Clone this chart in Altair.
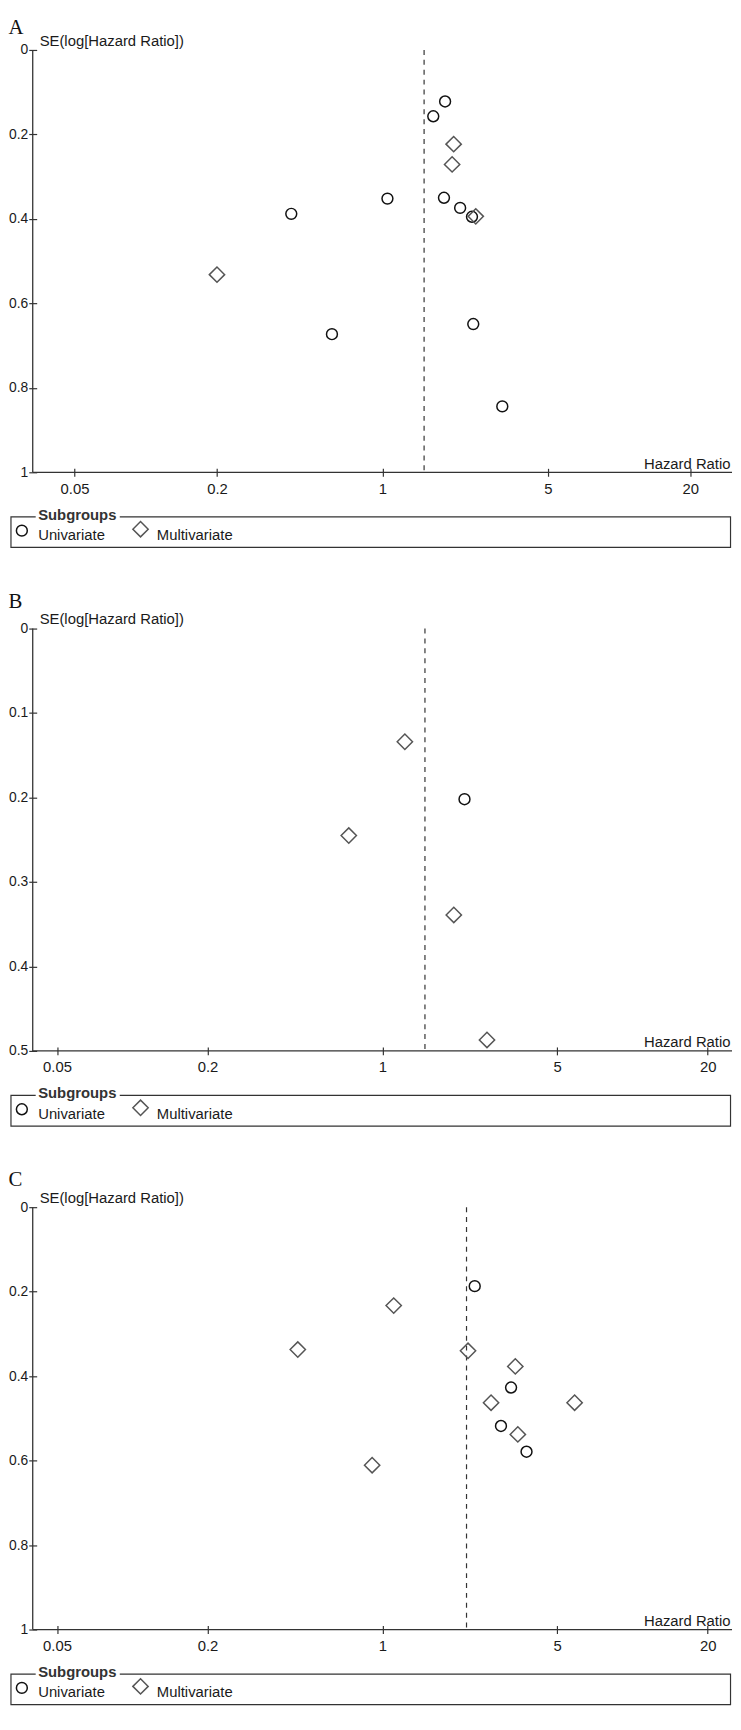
import altair as alt
import pandas as pd

GROUPS = ["Univariate", "Multivariate"]
X_TICKS = [0.05, 0.2, 1, 5, 20]

# Panel A
A_UNI_HR = [1.84, 1.64, 1.05, 0.412, 1.82, 2.13, 2.39, 2.42, 0.612, 3.21]
A_UNI_SE = [0.122, 0.157, 0.352, 0.388, 0.350, 0.374, 0.395, 0.649, 0.673, 0.844]
A_MULTI_HR = [2.00, 1.97, 2.48, 0.20]
A_MULTI_SE = [0.223, 0.271, 0.394, 0.532]
A_POOLED = 1.50
A_X_DOMAIN = [0.0333, 30]
A_Y_TICKS = [0, 0.2, 0.4, 0.6, 0.8, 1]

# Panel B
B_UNI_HR = [2.13]
B_UNI_SE = [0.202]
B_MULTI_HR = [1.23, 0.734, 1.93, 2.62]
B_MULTI_SE = [0.134, 0.245, 0.339, 0.487]
B_POOLED = 1.48
B_X_DOMAIN = [0.04, 25]
B_Y_TICKS = [0, 0.1, 0.2, 0.3, 0.4, 0.5]

# Panel C
C_UNI_HR = [2.34, 3.27, 2.98, 3.77]
C_UNI_SE = [0.187, 0.427, 0.518, 0.579]
C_MULTI_HR = [1.11, 0.459, 2.20, 3.40, 2.72, 5.87, 3.48, 0.91]
C_MULTI_SE = [0.233, 0.337, 0.340, 0.377, 0.463, 0.463, 0.538, 0.611]
C_POOLED = 2.17
C_X_DOMAIN = [0.04, 25]
C_Y_TICKS = [0, 0.2, 0.4, 0.6, 0.8, 1]

W, H = 707, 427
AX = "#333333"
TXT = "#1a1a1a"
SANS = "Liberation Sans"
SERIF = "Liberation Serif"
CIRCLE_SIZE = 121
DIAMOND_SIZE = 240


def common_axis(**kw):
    return alt.Axis(
        domain=False, offset=-4, tickSize=8, tickColor=AX, tickWidth=1.2,
        labelFont=SANS, labelColor=TXT, grid=False, labelFlush=False,
        labelOverlap=False, titleFont=SANS, titleFontSize=15,
        titleFontWeight="normal", titleColor=TXT, format="~g", **kw)


def panel(letter, uni_hr, uni_se, multi_hr, multi_se, pooled, xdom, yticks, title_offset):
    xs = alt.Scale(type="log", domain=xdom, nice=False)
    ys = alt.Scale(domain=[yticks[0], yticks[-1]], reverse=True, nice=False, zero=False)
    xaxis = common_axis(values=X_TICKS, title="Hazard Ratio", titleX=W - 2, titleY=0,
                        titleAlign="right", titleBaseline="alphabetic",
                        labelFontSize=15, labelPadding=5)
    yaxis = common_axis(values=yticks, title="SE(log[Hazard Ratio])", titleAngle=0,
                        titleX=2.5, titleY=-10, titleAlign="left", titleBaseline="middle",
                        labelFontSize=14, labelPadding=1)

    uni = pd.DataFrame({"hr": uni_hr, "se": uni_se, "group": GROUPS[0]})
    multi = pd.DataFrame({"hr": multi_hr, "se": multi_se, "group": GROUPS[1]})
    one = pd.DataFrame({"k": [0]})

    pooled_rule = alt.Chart(pd.DataFrame({"hr": [pooled]})).mark_rule(
        strokeDash=[5, 5], color=AX, strokeWidth=1.2
    ).encode(x=alt.X("hr:Q", scale=xs, axis=xaxis))

    pts_u = alt.Chart(uni).mark_point(
        shape="circle", size=CIRCLE_SIZE, filled=False, stroke="#111111", strokeWidth=1.5, opacity=1
    ).encode(x=alt.X("hr:Q", scale=xs, axis=xaxis), y=alt.Y("se:Q", scale=ys, axis=yaxis))
    pts_m = alt.Chart(multi).mark_point(
        shape="diamond", size=DIAMOND_SIZE, filled=False, stroke="#555555", strokeWidth=1.5, opacity=1
    ).encode(x=alt.X("hr:Q", scale=xs, axis=xaxis), y=alt.Y("se:Q", scale=ys, axis=yaxis))

    yline = alt.Chart(one).mark_rule(color=AX, strokeWidth=1.3).encode(
        x=alt.value(0), y=alt.value(0), y2=alt.value(H))
    xline = alt.Chart(one).mark_rule(color=AX, strokeWidth=1.3).encode(
        x=alt.value(0), x2=alt.value(W), y=alt.value(H))

    # legend box (fieldset style)
    box = alt.Chart(one).mark_rect(fillOpacity=0, stroke=AX, strokeWidth=1.2).encode(
        x=alt.value(-22), x2=alt.value(W - 1.5), y=alt.value(H + 45), y2=alt.value(H + 76))
    box_bg = alt.Chart(one).mark_rect(fill="white").encode(
        x=alt.value(3), x2=alt.value(88), y=alt.value(H + 40), y2=alt.value(H + 50))
    box_title = alt.Chart(one).mark_text(
        text="Subgroups", font=SANS, fontSize=15, fontWeight="bold", align="left",
        baseline="middle", color="#333333").encode(x=alt.value(5.5), y=alt.value(H + 43))
    lg_u = alt.Chart(pd.DataFrame({"group": [GROUPS[0]]})).mark_point(
        shape="circle", size=CIRCLE_SIZE, filled=False, stroke="#111111", strokeWidth=1.5, opacity=1
    ).encode(x=alt.value(-11), y=alt.value(H + 59))
    lg_u_t = alt.Chart(pd.DataFrame({"group": [GROUPS[0]]})).mark_text(
        font=SANS, fontSize=15, align="left", baseline="middle", color=TXT
    ).encode(x=alt.value(5.5), y=alt.value(H + 63.5), text="group:N")
    lg_m = alt.Chart(pd.DataFrame({"group": [GROUPS[1]]})).mark_point(
        shape="diamond", size=DIAMOND_SIZE, filled=False, stroke="#555555", strokeWidth=1.5, opacity=1
    ).encode(x=alt.value(109), y=alt.value(H + 57.5))
    lg_m_t = alt.Chart(pd.DataFrame({"group": [GROUPS[1]]})).mark_text(
        font=SANS, fontSize=15, align="left", baseline="middle", color=TXT
    ).encode(x=alt.value(125.5), y=alt.value(H + 63.5), text="group:N")

    return alt.layer(
        pooled_rule, pts_u, pts_m, yline, xline, box, box_bg, box_title,
        lg_u, lg_u_t, lg_m, lg_m_t
    ).properties(
        width=W, height=H,
        title=alt.TitleParams(letter, anchor="start", frame="bounds", font=SERIF,
                              fontSize=21, fontWeight="normal", color="#111111",
                              offset=title_offset),
    )


pa = panel("A", A_UNI_HR, A_UNI_SE, A_MULTI_HR, A_MULTI_SE, A_POOLED, A_X_DOMAIN, A_Y_TICKS, -5)
pb = panel("B", B_UNI_HR, B_UNI_SE, B_MULTI_HR, B_MULTI_SE, B_POOLED, B_X_DOMAIN, B_Y_TICKS, 0)
pc = panel("C", C_UNI_HR, C_UNI_SE, C_MULTI_HR, C_MULTI_SE, C_POOLED, C_X_DOMAIN, C_Y_TICKS, 0)

chart = alt.vconcat(pa, pb, pc, spacing=43).properties(
    padding=0, background="white"
).configure_view(stroke=None)

chart.save("out.html", embed_options={"renderer": "svg", "actions": False})
